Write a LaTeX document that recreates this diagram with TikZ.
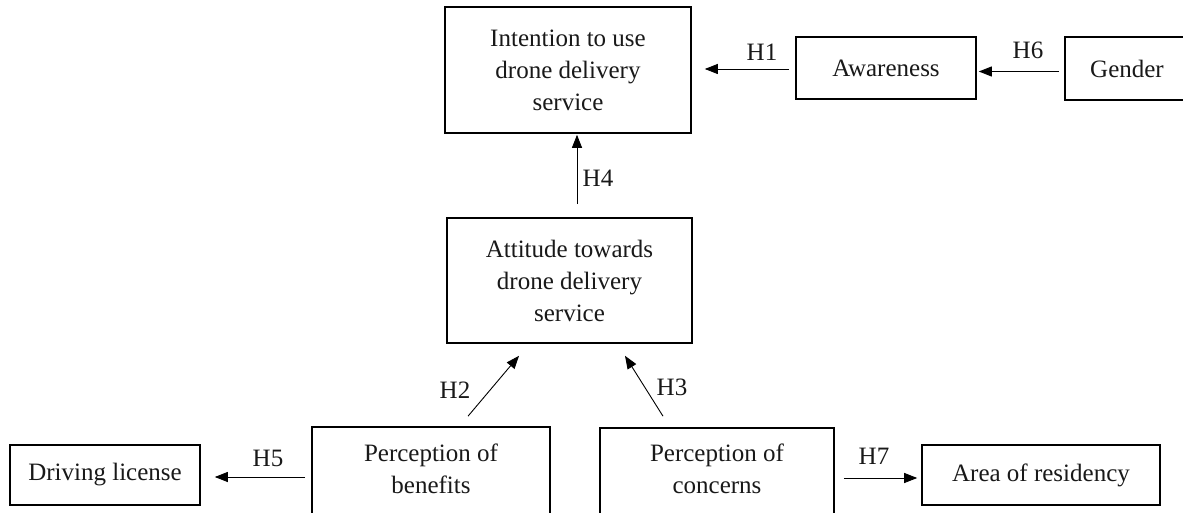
\documentclass[tikz,border=0pt]{standalone}
\usepackage{fontspec}
\setmainfont{Liberation Serif}
\usetikzlibrary{arrows.meta}
\begin{document}
\begin{tikzpicture}[x=1pt,y=-1pt,
  box/.style={draw=black, line width=1.6pt, align=center, inner sep=0pt,
              font=\fontsize{25}{32}\selectfont, text=black!90},
  txt/.style={align=center, inner sep=0pt, font=\fontsize{25}{32}\selectfont, text=black!90},
  lbl/.style={inner sep=0pt, font=\fontsize{25}{30}\selectfont, text=black!90},
  arr/.style={draw=black, line width=0.9pt, -{Triangle[length=13pt,width=10pt]}}]
\useasboundingbox (0,0) rectangle (1183,513);
\fill[white] (0,0) rectangle (1183,513);

% boxes
\node[box, minimum width=246, minimum height=126] (int) at (568,70)
  {Intention to use\\drone delivery\\service};
\node[box, minimum width=180, minimum height=62] (aw) at (886,68) {Awareness};
\node[box, minimum width=124, minimum height=63] (gen) at (1127,68.5) {Gender};
\node[box, minimum width=245, minimum height=125] (att) at (569.5,280.5)
  {Attitude towards\\drone delivery\\service};
\node[box, minimum width=238, minimum height=104] (ben) at (431,479) {};
\node[txt] (bent) at (431,469) {Perception of\\benefits};
\node[box, minimum width=234, minimum height=104] (con) at (717,480) {};
\node[txt] (cont) at (717,469) {Perception of\\concerns};
\node[box, minimum width=190, minimum height=60] (dl) at (105,475) {Driving license};
\node[box, minimum width=238, minimum height=60] (ar) at (1041,475) {Area of residency};

% connectors
\draw[arr, shorten <=6pt, shorten >=13pt] ([yshift=-1]aw.west) -- ([yshift=-1]aw.west -| int.east);
\draw[arr, shorten <=5pt, shorten >=2pt] ([yshift=-3]gen.west) -- ([yshift=-3]gen.west -| aw.east);
\draw[arr, shorten <=13pt, shorten >=1pt] ([xshift=7.5]att.north) -- ([xshift=7.5]att.north |- int.south);
\draw[arr] ([shift={(37,-10)}]ben.north) -- ([shift={(-50.5,12)}]att.south);
\draw[arr] ([shift={(-54,-11)}]con.north) -- ([shift={(55.5,12)}]att.south);
\draw[arr, shorten <=6pt, shorten >=14pt] ([yshift=-2]dl.east -| ben.west) -- ([yshift=-2]dl.east);
\draw[arr, shorten <=9pt, shorten >=4pt] ([yshift=-3]ar.west -| con.east) -- ([yshift=-3]ar.west);

% labels
\node[lbl] (h1) at (762,52) {H1};
\node[lbl] (h6) at (1028,50) {H6};
\node[lbl] (h4) at (598,178) {H4};
\node[lbl] (h2) at (455,390) {H2};
\node[lbl] (h3) at (672,387) {H3};
\node[lbl] (h5) at (268,458) {H5};
\node[lbl] (h7) at (874,456) {H7};
\end{tikzpicture}
\end{document}
